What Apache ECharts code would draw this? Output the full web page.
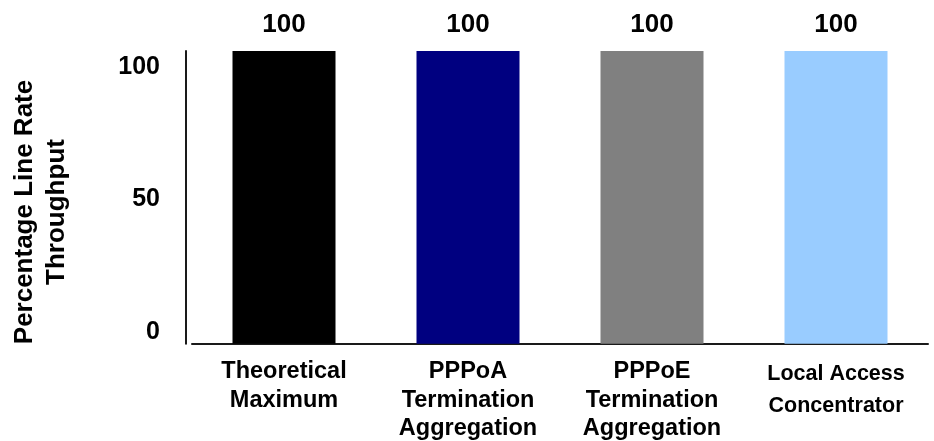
<!DOCTYPE html>
<html>
<head>
<meta charset="utf-8">
<script src="https://cdn.jsdelivr.net/npm/echarts@6/dist/echarts.min.js"></script>
<style>
html,body{margin:0;padding:0;background:#fff;}
#c{width:934px;height:441px;}
</style>
</head>
<body>
<div id="c"></div>
<script>
const categories = ['Theoretical\nMaximum', 'PPPoA\nTermination\nAggregation', 'PPPoE\nTermination\nAggregation', 'Local Access\nConcentrator'];
const values = [100, 100, 100, 100];
const barColors = ['#000000', '#000080', '#808080', '#99CCFF'];
const yTickLabels = [0, 50, 100];
const yTitle = 'Percentage Line Rate\nThroughput';

const FONT = 'Liberation Sans, Arial, sans-serif';
const chart = echarts.init(document.getElementById('c'), null, {renderer: 'canvas'});

chart.setOption({
  animation: false,
  backgroundColor: '#ffffff',
  grid: {left: 192, right: 6, top: 51, bottom: 96, containLabel: false},
  xAxis: {
    type: 'category',
    data: categories,
    axisLine: {show: true, lineStyle: {color: '#1a1a1a', width: 2}},
    axisTick: {show: false},
    axisLabel: {
      interval: 0,
      margin: 14,
      formatter: function (v, i) {
        return i === 3 ? '{b|' + v + '}' : '{a|' + v + '}';
      },
      rich: {
        a: {fontFamily: FONT, fontWeight: 'bold', fontSize: 23.5, lineHeight: 28.5, color: '#000', align: 'center'},
        b: {fontFamily: FONT, fontWeight: 'bold', fontSize: 21.5, lineHeight: 32, color: '#000', align: 'center'}
      }
    }
  },
  yAxis: [
    {
      type: 'value',
      min: 0,
      max: 100,
      offset: 6,
      axisLine: {show: true, lineStyle: {color: '#1a1a1a', width: 2}},
      axisTick: {show: false},
      axisLabel: {show: false},
      splitLine: {show: false}
    },
    {
      type: 'value',
      min: -4.51,
      max: 106.02,
      offset: 6,
      position: 'left',
      axisLine: {show: false},
      axisTick: {show: false},
      splitLine: {show: false},
      axisLabel: {
        customValues: yTickLabels,
        margin: 26,
        fontFamily: FONT, fontWeight: 'bold', fontSize: 25, color: '#000'
      }
    }
  ],
  series: [{
    type: 'bar',
    yAxisIndex: 0,
    barWidth: 103,
    data: values.map((v, i) => ({value: v, itemStyle: {color: barColors[i]}})),
    label: {
      show: true,
      position: 'top',
      distance: 13,
      fontFamily: FONT, fontWeight: 'bold', fontSize: 26, color: '#000'
    }
  }],
  graphic: [{
    type: 'text',
    x: 41,
    y: 212,
    rotation: Math.PI / 2,
    style: {
      text: yTitle,
      align: 'center',
      verticalAlign: 'middle',
      fontFamily: FONT, fontWeight: 'bold', fontSize: 26, lineHeight: 32, fill: '#000'
    }
  }]
});
</script>
</body>
</html>
